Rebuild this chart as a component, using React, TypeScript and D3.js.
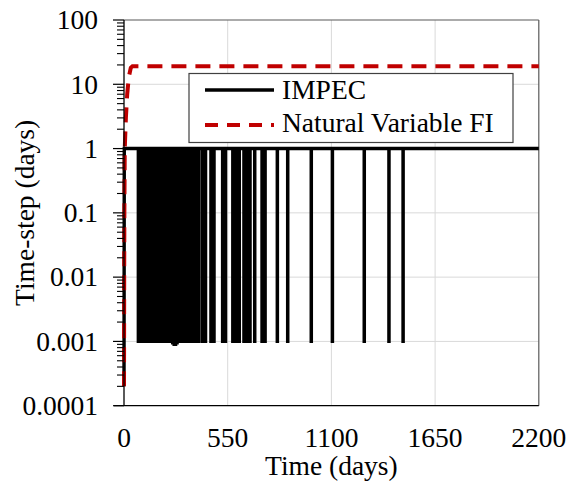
import React from 'react';
import * as d3 from 'd3';

// ---------- data ----------
const xTickValues = [0, 550, 1100, 1650, 2200];
const yTickValues = [0.0001, 0.001, 0.01, 0.1, 1, 10, 100];
const yTickLabels = ['0.0001', '0.001', '0.01', '0.1', '1', '10', '100'];

// IMPEC: ramp-up at start, then time-step cuts (spikes down to ~0.001)
const impecStartTimes = [0, 1.5];
const impecStartValues = [0.0002, 1];
const impecSpikeTimes = [
  76, 83, 91, 98, 106, 113, 121, 129, 136, 144, 151, 159, 167, 174, 182, 189,
  197, 205, 212, 220, 228, 235, 243, 250, 258, 266, 273, 281, 289, 296, 304,
  312, 319, 327, 334, 342, 350, 357, 365, 372, 380, 388, 396,
  416, 432, 461, 477, 523, 538, 577, 594, 611, 636, 652, 668, 693, 732, 748,
  813, 868, 993, 1105, 1274, 1405, 1480,
];
const impecSpikeMins = [
  0.001, 0.001, 0.001, 0.001, 0.001, 0.001, 0.001, 0.001, 0.001, 0.001, 0.001,
  0.001, 0.001, 0.001, 0.001, 0.001, 0.001, 0.001, 0.001, 0.001, 0.001, 0.001,
  0.001, 0.001, 0.00095, 0.0009, 0.0009, 0.00095, 0.001, 0.001, 0.001, 0.001, 0.001,
  0.001, 0.001, 0.001, 0.001, 0.001, 0.001, 0.001, 0.001, 0.001, 0.001,
  0.001, 0.001, 0.001, 0.001, 0.001, 0.001, 0.001, 0.001, 0.001, 0.001, 0.001,
  0.001, 0.001, 0.001, 0.001, 0.001, 0.001, 0.001, 0.001, 0.001, 0.001, 0.001,
];
const impecEndTime = 2200;
const impecEndValue = 1;

// Natural Variable FI
const nvfiTimes = [0, 0.5, 1, 2, 4, 10, 17, 22, 28, 36, 45, 2200];
const nvfiValues = [0.0002, 0.001, 0.01, 0.1, 1, 3, 7, 10, 14, 18, 19, 19];

const legendLabels = ['IMPEC', 'Natural Variable FI'];

// ---------- layout ----------
const W = 568;
const H = 484;
const L = 124;
const R = 538.8;
const T = 20;
const B = 405.7;
const FONT = '"Liberation Serif", "Times New Roman", serif';
const FS = 27.5;

export default function App() {
  const x = d3.scaleLinear().domain([0, 2200]).range([L, R]);
  const y = d3.scaleLog().domain([0.0001, 100]).range([B, T]);

  const impecPts: [number, number][] = [];
  impecStartTimes.forEach((t, i) => impecPts.push([t, impecStartValues[i]]));
  impecSpikeTimes.forEach((t, i) => {
    impecPts.push([t, 1]);
    impecPts.push([t, impecSpikeMins[i]]);
    impecPts.push([t + 0.6, impecSpikeMins[i]]);
    impecPts.push([t + 0.6, 1]);
  });
  impecPts.push([impecEndTime, impecEndValue]);

  const nvfiPts: [number, number][] = nvfiTimes.map((t, i) => [t, nvfiValues[i]]);

  const line = d3
    .line<[number, number]>()
    .x((d) => x(d[0]))
    .y((d) => y(d[1]));

  const minorTicks: number[] = [];
  for (let e = -4; e < 2; e++) {
    for (let k = 2; k <= 9; k++) minorTicks.push(k * Math.pow(10, e));
  }

  return (
    <svg
      width={W}
      height={H}
      style={{ position: 'absolute', left: 0, top: 0, background: '#fff' }}
      fontFamily={FONT}
    >
      {/* gridlines */}
      {xTickValues.slice(1, -1).map((v) => (
        <line key={'gx' + v} x1={x(v)} x2={x(v)} y1={T} y2={B} stroke="#d9d9d9" strokeWidth={1} />
      ))}
      {yTickValues.slice(1, -1).map((v) => (
        <line key={'gy' + v} x1={L} x2={R} y1={y(v)} y2={y(v)} stroke="#d9d9d9" strokeWidth={1} />
      ))}
      {/* frame */}
      <line x1={L} x2={R} y1={T} y2={T} stroke="#595959" strokeWidth={1.2} />
      <line x1={R} x2={R} y1={T} y2={B} stroke="#595959" strokeWidth={1.2} />

      {/* series */}
      <path
        d={line(impecPts) || ''}
        fill="none"
        stroke="#000"
        strokeWidth={3.4}
        strokeLinejoin="miter"
      />
      <path
        d={line(nvfiPts) || ''}
        fill="none"
        stroke="#c00000"
        strokeWidth={4}
        strokeDasharray="15,9"
      />

      {/* axes */}
      <line x1={L} x2={L} y1={T} y2={B} stroke="#000" strokeWidth={1.3} />
      <line x1={L - 10} x2={R} y1={B} y2={B} stroke="#000" strokeWidth={1.3} />
      {yTickValues.map((v) => (
        <line key={'ty' + v} x1={L - 11} x2={L} y1={y(v)} y2={y(v)} stroke="#000" strokeWidth={1.2} />
      ))}
      {minorTicks.map((v) => (
        <line key={'my' + v} x1={L - 7} x2={L} y1={y(v)} y2={y(v)} stroke="#000" strokeWidth={1.1} />
      ))}

      {/* tick labels */}
      {yTickValues.map((v, i) => (
        <text
          key={'ly' + v}
          x={98}
          y={y(v)}
          dy="0.34em"
          textAnchor="end"
          fontSize={FS}
          fill="#000"
        >
          {yTickLabels[i]}
        </text>
      ))}
      {xTickValues.map((v) => (
        <text key={'lx' + v} x={x(v)} y={446.5} textAnchor="middle" fontSize={FS} fill="#000">
          {v}
        </text>
      ))}

      {/* axis titles */}
      <text x={(L + R) / 2} y={475} textAnchor="middle" fontSize={FS} fill="#000">
        Time (days)
      </text>
      <text
        transform={`translate(34, ${(T + B) / 2}) rotate(-90)`}
        textAnchor="middle"
        fontSize={FS}
        fill="#000"
      >
        Time-step (days)
      </text>

      {/* legend */}
      <rect x={189} y={73.5} width={324} height={69} fill="#fff" stroke="#404040" strokeWidth={1.2} />
      <line x1={205} x2={274} y1={90} y2={90} stroke="#000" strokeWidth={3.4} />
      <line x1={205} x2={274} y1={125} y2={125} stroke="#c00000" strokeWidth={4} strokeDasharray="13,9" />
      <text x={282} y={98.5} fontSize={FS} fill="#000">
        {legendLabels[0]}
      </text>
      <text x={282} y={132} fontSize={FS} fill="#000">
        {legendLabels[1]}
      </text>
    </svg>
  );
}
